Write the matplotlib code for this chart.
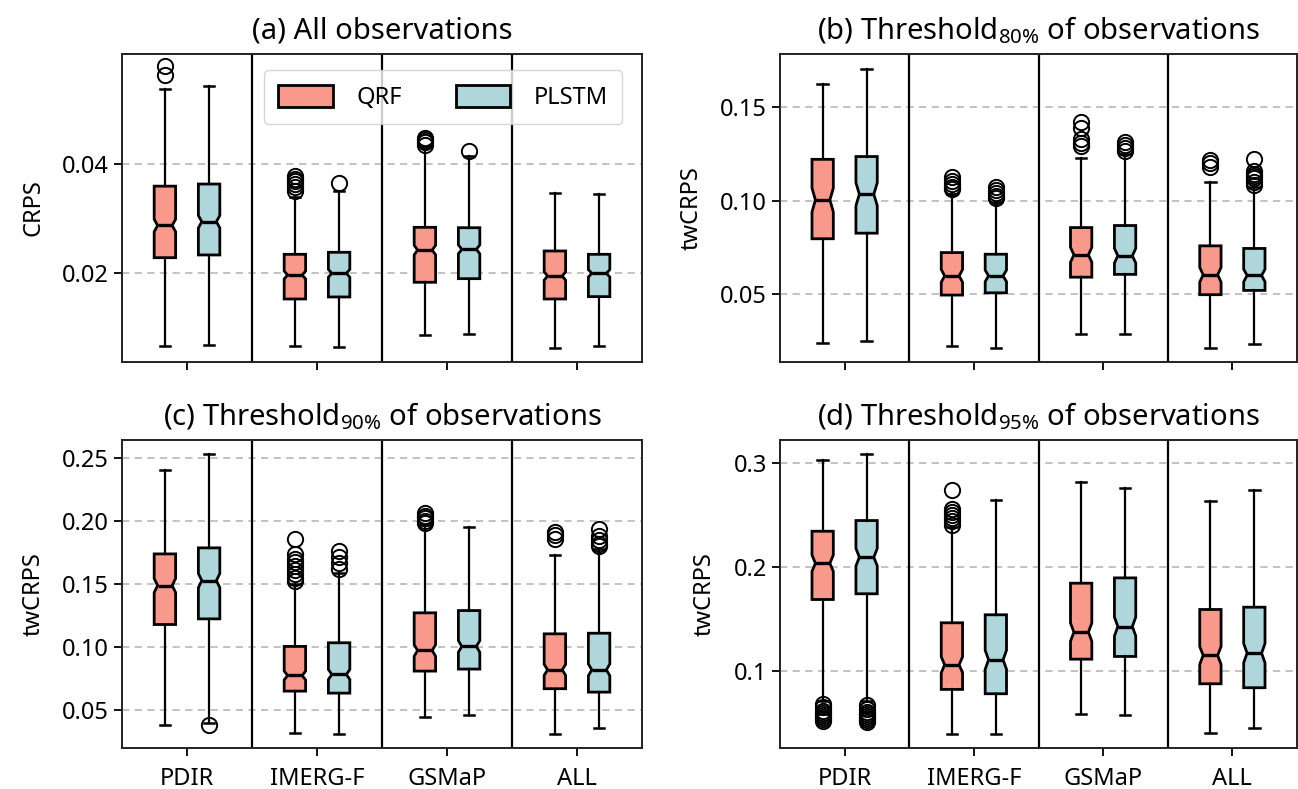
import matplotlib
matplotlib.use("Agg")
import matplotlib.pyplot as plt
from matplotlib.patches import Patch
from matplotlib.path import Path

plt.rcParams['font.family'] = ['Noto Sans', 'DejaVu Sans']
plt.rcParams['mathtext.fontset'] = 'custom'
plt.rcParams['mathtext.rm'] = 'Noto Sans'
plt.rcParams['mathtext.it'] = 'Noto Sans'

# ---------------- data ----------------
groups = ["PDIR", "IMERG-F", "GSMaP", "ALL"]
models = ["QRF", "PLSTM"]
colors = ["#F9998B", "#AED6DB"]

# each entry: [whisker_low, q1, median, q3, whisker_high]
a_qrf_stats = [[0.00664, 0.0228, 0.0287, 0.0359, 0.0536],
               [0.00664, 0.01524, 0.01963, 0.02342, 0.0340],
               [0.0086, 0.0183, 0.0242, 0.02836, 0.0430],
               [0.00622, 0.01524, 0.01945, 0.02403, 0.03458]]
a_qrf_fliers = [[0.0563, 0.0579],
                [0.0350, 0.0357, 0.0363, 0.0368, 0.0373, 0.0378],
                [0.0435, 0.0440, 0.0443, 0.0447],
                []]
a_plstm_stats = [[0.00677, 0.0233, 0.02939, 0.03629, 0.0542],
                 [0.00652, 0.01561, 0.01994, 0.02379, 0.03506],
                 [0.00884, 0.01896, 0.02433, 0.02829, 0.04141],
                 [0.00664, 0.01567, 0.01994, 0.02342, 0.0344]]
a_plstm_fliers = [[], [0.03641], [0.04233], []]

b_qrf_stats = [[0.0236, 0.0795, 0.1003, 0.1221, 0.1625],
               [0.0218, 0.0493, 0.0596, 0.0721, 0.1036],
               [0.0282, 0.0589, 0.0709, 0.0855, 0.1227],
               [0.0211, 0.0495, 0.0602, 0.0757, 0.1102]]
b_qrf_fliers = [[],
                [0.1060, 0.1075, 0.1090, 0.1105, 0.1125],
                [0.129, 0.131, 0.133, 0.139, 0.142],
                [0.118, 0.1200, 0.1215]]
b_plstm_stats = [[0.0245, 0.0825, 0.1034, 0.1236, 0.1707],
                 [0.0209, 0.0505, 0.0596, 0.0712, 0.0990],
                 [0.0286, 0.0604, 0.0704, 0.0866, 0.1250],
                 [0.0232, 0.0518, 0.0598, 0.0743, 0.1070]]
b_plstm_fliers = [[],
                  [0.1012, 0.1025, 0.1040, 0.1055, 0.1070],
                  [0.1265, 0.1280, 0.1300, 0.1315],
                  [0.1085, 0.110, 0.112, 0.113, 0.1145, 0.116, 0.1225]]

c_qrf_stats = [[0.0376, 0.1177, 0.1487, 0.1738, 0.2407],
               [0.0315, 0.0648, 0.0772, 0.1003, 0.1500],
               [0.0442, 0.0807, 0.0971, 0.1270, 0.1965],
               [0.0310, 0.0667, 0.0817, 0.1103, 0.1733]]
c_qrf_fliers = [[],
                [0.152, 0.155, 0.158, 0.161, 0.164, 0.167, 0.170, 0.174, 0.186],
                [0.198, 0.200, 0.202, 0.204, 0.206],
                [0.186, 0.189, 0.191]]
c_plstm_stats = [[0.0395, 0.1222, 0.1526, 0.1786, 0.2532],
                 [0.0310, 0.0632, 0.0780, 0.1032, 0.1585],
                 [0.0455, 0.0823, 0.1003, 0.1288, 0.1955],
                 [0.0357, 0.0640, 0.0817, 0.1108, 0.1780]]
c_plstm_fliers = [[0.0382],
                  [0.1619, 0.1665, 0.1712, 0.1765],
                  [],
                  [0.180, 0.182, 0.185, 0.188, 0.1935]]

d_qrf_stats = [[0.0715, 0.1689, 0.2038, 0.2346, 0.3032],
               [0.0397, 0.0824, 0.1061, 0.1465, 0.2385],
               [0.0590, 0.1115, 0.1375, 0.1846, 0.2824],
               [0.0404, 0.0878, 0.1151, 0.1593, 0.2641]]
d_qrf_fliers = [[0.052, 0.054, 0.056, 0.058, 0.060, 0.062, 0.065, 0.068],
                [0.241, 0.244, 0.247, 0.250, 0.253, 0.256, 0.274],
                [],
                []]
d_plstm_stats = [[0.0715, 0.1744, 0.2096, 0.2449, 0.3090],
                 [0.0397, 0.0782, 0.1109, 0.1542, 0.2647],
                 [0.0577, 0.1141, 0.1429, 0.1897, 0.2760],
                 [0.0455, 0.0840, 0.1173, 0.1615, 0.2744]]
d_plstm_fliers = [[0.051, 0.053, 0.055, 0.057, 0.059, 0.061, 0.064, 0.067],
                  [], [], []]

# notch half-height as a fraction of the IQR, per panel
notch_frac = [0.088, 0.15, 0.10, 0.12]

titles = ["(a) All observations",
          r"(b) Threshold$_{80\%}$ of observations",
          r"(c) Threshold$_{90\%}$ of observations",
          r"(d) Threshold$_{95\%}$ of observations"]
ylabels = ["CRPS", "twCRPS", "twCRPS", "twCRPS"]
yticks = [[0.02, 0.04], [0.05, 0.10, 0.15], [0.05, 0.10, 0.15, 0.20, 0.25], [0.1, 0.2, 0.3]]
ytickfmt = ["{:.2f}", "{:.2f}", "{:.2f}", "{:.1f}"]
ylims = [(0.0037, 0.0601), (0.0134, 0.1786), (0.0196, 0.2643), (0.026, 0.3224)]

panels = [
    (a_qrf_stats, a_qrf_fliers, a_plstm_stats, a_plstm_fliers),
    (b_qrf_stats, b_qrf_fliers, b_plstm_stats, b_plstm_fliers),
    (c_qrf_stats, c_qrf_fliers, c_plstm_stats, c_plstm_fliers),
    (d_qrf_stats, d_qrf_fliers, d_plstm_stats, d_plstm_fliers),
]

# ---------------- figure ----------------
W, H = 1298, 789
fig = plt.figure(figsize=(W / 100, H / 100), dpi=100)
axpos = [(122, 54, 520, 308), (780, 54, 517, 308),
         (122, 440, 520, 308), (780, 440, 517, 308)]

offset = 0.17
bw = 0.165
inset = 0.34   # notch narrowest half-width as a fraction of box width

for i, (qs, qf, ps, pf) in enumerate(panels):
    x0, y0, w, h = axpos[i]
    ax = fig.add_axes([x0 / W, 1 - (y0 + h) / H, w / W, h / H])
    for m, (stats_l, fl_l) in enumerate([(qs, qf), (ps, pf)]):
        bstats = []
        for g in range(len(groups)):
            lo, q1, med, q3, hi = stats_l[g]
            d = notch_frac[i] * (q3 - q1)
            bstats.append(dict(whislo=lo, q1=q1, med=med, q3=q3, whishi=hi,
                               fliers=fl_l[g], cilo=med - d, cihi=med + d))
        pos = [g + (-offset if m == 0 else offset) for g in range(len(groups))]
        art = ax.bxp(bstats, positions=pos, widths=bw, shownotches=True,
                     patch_artist=True, manage_ticks=False,
                     boxprops=dict(facecolor=colors[m], edgecolor='black', linewidth=2.0),
                     medianprops=dict(color='black', linewidth=2.4),
                     whiskerprops=dict(color='black', linewidth=1.6),
                     capprops=dict(color='black', linewidth=1.8),
                     flierprops=dict(marker='o', markerfacecolor='none',
                                     markeredgecolor='black', markersize=11,
                                     markeredgewidth=1.4))
        # shallower notch like the reference
        for b, p, mline in zip(art['boxes'], pos, art['medians']):
            verts = b.get_path().vertices.copy()
            verts[3, 0] = p + bw * inset
            verts[8, 0] = p - bw * inset
            b.set_path(Path(verts, b.get_path().codes))
            mline.set_xdata([p - bw * inset, p + bw * inset])
    for sep in [0.5, 1.5, 2.5]:
        ax.axvline(sep, color='black', linewidth=1.6, zorder=1)
    ax.set_xlim(-0.5, len(groups) - 0.5)
    ax.set_ylim(*ylims[i])
    ax.set_yticks(yticks[i])
    ax.set_yticklabels([ytickfmt[i].format(v) for v in yticks[i]])
    ax.yaxis.grid(True, linestyle=(0, (4, 3)), color='#BDBDBD', linewidth=1.3)
    ax.set_axisbelow(True)
    ax.set_xticks(range(len(groups)))
    if i >= 2:
        ax.set_xticklabels(groups)
    else:
        ax.set_xticklabels([])
    ax.tick_params(axis='both', labelsize=17, length=6, width=1.3, colors='black')
    ax.tick_params(axis='x', pad=8)
    for s in ax.spines.values():
        s.set_linewidth(1.4)
        s.set_color('#222222')
    ax.set_ylabel(ylabels[i], fontsize=17, labelpad=12)
    ax.set_title(titles[i], fontsize=21, pad=11)
    if i == 0:
        handles = [Patch(facecolor=colors[0], edgecolor='black', linewidth=2.0, label=models[0]),
                   Patch(facecolor=colors[1], edgecolor='black', linewidth=2.0, label=models[1])]
        ax.legend(handles=handles, loc='upper right', ncol=2, fontsize=17,
                  handlelength=2.3, handleheight=1.1, columnspacing=2.3,
                  handletextpad=1.0,
                  bbox_to_anchor=(0.985, 0.985), borderpad=0.6)

fig.savefig("out.png", dpi=100)
